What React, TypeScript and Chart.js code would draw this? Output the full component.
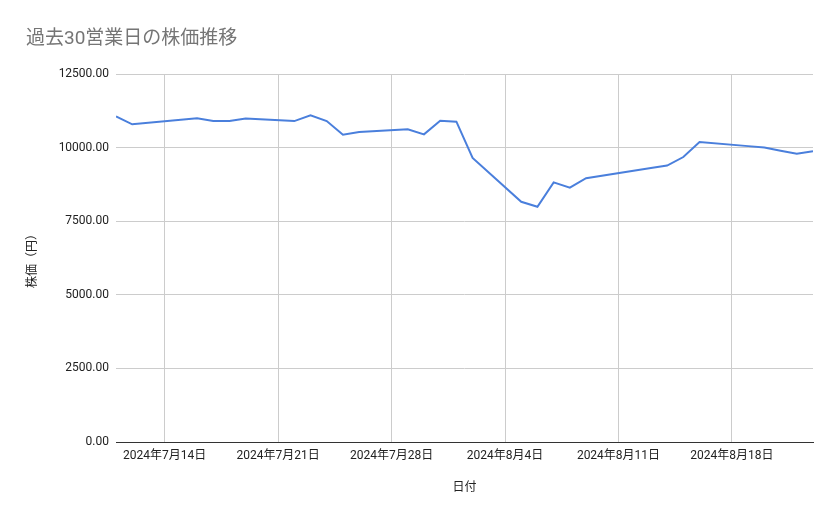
import { useEffect, useRef } from "react";
import Chart from "chart.js/auto";

const chartTitle = "過去30営業日の株価推移";
const xAxisTitle = "日付";
const yAxisTitle = "株価（円）";

const startDate = "2024-07-11";
const endDate = "2024-08-23";

const tradeDates = [
  "2024-07-11", "2024-07-12", "2024-07-16", "2024-07-17", "2024-07-18", "2024-07-19",
  "2024-07-22", "2024-07-23", "2024-07-24", "2024-07-25", "2024-07-26",
  "2024-07-29", "2024-07-30", "2024-07-31", "2024-08-01", "2024-08-02",
  "2024-08-05", "2024-08-06", "2024-08-07", "2024-08-08", "2024-08-09",
  "2024-08-13", "2024-08-14", "2024-08-15", "2024-08-16",
  "2024-08-19", "2024-08-20", "2024-08-21", "2024-08-22", "2024-08-23",
];

const prices = [
  11060, 10790, 11000, 10900, 10900, 10990,
  10900, 11100, 10900, 10440, 10530,
  10620, 10450, 10910, 10880, 9650,
  8160, 7990, 8820, 8640, 8960,
  9310, 9390, 9680, 10190,
  10050, 10000, 9890, 9790, 9880,
];

const tickDates = ["2024-07-14", "2024-07-21", "2024-07-28", "2024-08-04", "2024-08-11", "2024-08-18"];
const tickLabels = ["2024年7月14日", "2024年7月21日", "2024年7月28日", "2024年8月4日", "2024年8月11日", "2024年8月18日"];

const yMax = 12500;
const yStep = 2500;

const fontFamily = "Roboto, 'Noto Sans CJK JP', sans-serif";

// days since the first date, used as the x value
const dayIndex = (d: string) => {
  const [y, m, day] = d.split("-").map(Number);
  const [y0, m0, d0] = startDate.split("-").map(Number);
  return Math.round((Date.UTC(y, m - 1, day) - Date.UTC(y0, m0 - 1, d0)) / 86400000);
};

const App = () => {
  const chartRef = useRef<HTMLCanvasElement>(null);
  const chartInstance = useRef<Chart | null>(null);

  useEffect(() => {
    if (!chartRef.current) return;
    if (chartInstance.current) chartInstance.current.destroy();
    const ctx = chartRef.current.getContext("2d");
    if (!ctx) return;

    const tickValues = tickDates.map(dayIndex);

    const titlePlugin = {
      id: "leftTitle",
      afterDraw: (chart: Chart) => {
        const c = chart.ctx;
        c.save();
        c.font = `19px ${fontFamily}`;
        c.fillStyle = "#757575";
        c.textAlign = "left";
        c.textBaseline = "middle";
        c.fillText(chartTitle, 26, 39);
        c.restore();
      },
    };

    chartInstance.current = new Chart(ctx, {
      type: "line",
      data: {
        datasets: [
          {
            data: tradeDates.map((d, i) => ({ x: dayIndex(d), y: prices[i] })),
            borderColor: "#4a7fdc",
            borderWidth: 2,
            pointRadius: 0,
            tension: 0,
            fill: false,
          },
        ],
      },
      options: {
        animation: false,
        responsive: true,
        maintainAspectRatio: false,
        layout: { padding: { top: 74, right: 26, left: 0, bottom: 0 } },
        plugins: {
          legend: { display: false },
          title: { display: false },
          tooltip: { enabled: false },
        },
        scales: {
          x: {
            type: "linear",
            min: dayIndex(startDate),
            max: dayIndex(endDate),
            afterBuildTicks: (scale: any) => {
              scale.ticks = tickValues.map((v) => ({ value: v }));
            },
            afterFit: (scale: any) => {
              scale.height = 77;
            },
            ticks: {
              autoSkip: false,
              maxRotation: 0,
              padding: 7,
              color: "#222",
              font: { family: fontFamily, size: 12 },
              callback: (v: any) => {
                const i = tickValues.indexOf(Number(v));
                return i >= 0 ? tickLabels[i] : "";
              },
            },
            grid: { color: "#cccccc", drawTicks: false },
            border: { display: true, color: "#333", width: 1 },
            title: {
              display: true,
              text: xAxisTitle,
              color: "#222",
              font: { family: fontFamily, size: 12 },
              padding: { top: 0, bottom: 24 },
            },
          },
          y: {
            min: 0,
            max: yMax,
            afterBuildTicks: (scale: any) => {
              const t = [];
              for (let v = 0; v <= yMax; v += yStep) t.push({ value: v });
              scale.ticks = t;
            },
            afterFit: (scale: any) => {
              scale.width = 116;
            },
            ticks: {
              padding: 7,
              color: "#222",
              font: { family: fontFamily, size: 12 },
              callback: (v: any) => Number(v).toFixed(2),
            },
            grid: { color: "#cccccc", drawTicks: false },
            border: { display: false },
            title: {
              display: true,
              text: yAxisTitle,
              color: "#222",
              font: { family: fontFamily, size: 12 },
              padding: { top: 26, bottom: 0 },
            },
          },
        },
      },
      plugins: [titlePlugin],
    });

    return () => {
      if (chartInstance.current) {
        chartInstance.current.destroy();
        chartInstance.current = null;
      }
    };
  }, []);

  return (
    <div style={{ position: "fixed", left: 0, top: 0, width: 839, height: 519, background: "#fff" }}>
      <canvas ref={chartRef} />
    </div>
  );
};

export default App;
